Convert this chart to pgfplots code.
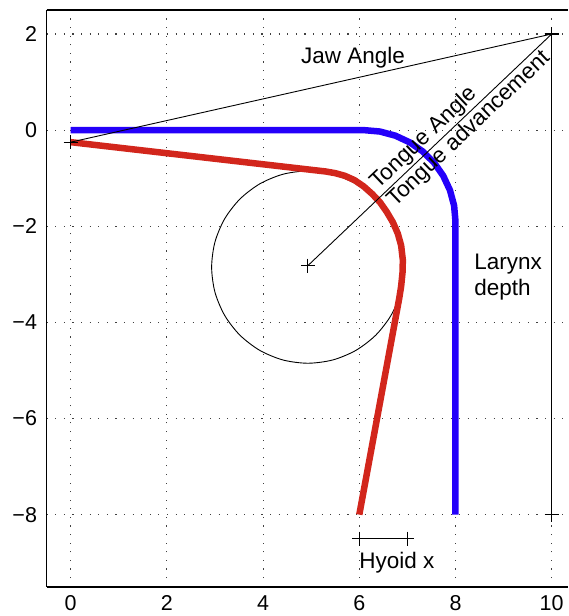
\documentclass[border=0pt]{standalone}
\usepackage{pgfplots}
\pgfplotsset{compat=1.18}
\usepackage{fontspec}
\setmainfont{Liberation Sans}
\definecolor{cblue}{RGB}{36,0,250}
\definecolor{cred}{RGB}{210,38,28}
\newcommand{\lf}{\fontsize{22.5}{26}\selectfont}
\newcommand{\tf}{\fontsize{21.5}{25}\selectfont}
\begin{document}
\begin{tikzpicture}
\begin{axis}[
  scale only axis, width=521.8pt, height=577.2pt,
  xmin=-0.5, xmax=10.34, ymin=-9.5, ymax=2.5,
  axis x line=box, axis y line=left,
  axis line style={-, line width=1.6pt},
  xtick={0,2,4,6,8,10},
  ytick={-8,-6,-4,-2,0,2},
  yticklabels={−8,−6,−4,−2,0,2},
  major tick length=0pt,
  grid=major,
  major grid style={black!75, line width=1.1pt, dash pattern=on 1.1pt off 7.5pt},
  /pgf/number format/assume math mode=true,
  tick label style={font=\tf, inner sep=0pt},
  xticklabel shift=9pt, yticklabel shift=9.5pt,
  clip=false,
]
\coordinate (BL) at (rel axis cs:0,0);
\coordinate (TR) at (rel axis cs:1,1);
% thin circle
\addplot[black, line width=0.9pt, smooth cycle] coordinates {
(6.93,-2.85) (6.862,-2.332) (6.662,-1.85) (6.344,-1.436) (5.93,-1.118) (5.448,-0.918)
(4.93,-0.85) (4.412,-0.918) (3.93,-1.118) (3.516,-1.436) (3.198,-1.85) (2.998,-2.332)
(2.93,-2.85) (2.998,-3.368) (3.198,-3.85) (3.516,-4.264) (3.93,-4.582) (4.412,-4.782)
(4.93,-4.85) (5.448,-4.782) (5.93,-4.582) (6.344,-4.264) (6.662,-3.85) (6.862,-3.368)};
% blue curve
\addplot[cblue, line width=6.5pt, line join=round] coordinates {
(0,0) (6.1,0) (6.43,-0.029) (6.75,-0.115) (7.05,-0.255) (7.321,-0.445)
(7.556,-0.679) (7.745,-0.95) (7.885,-1.25) (7.971,-1.57) (8,-1.9) (8,-8)};
% red curve
\addplot[cred, line width=6.5pt, line join=round] coordinates {
(0,-0.25) (5.3,-0.86) (5.5,-0.895) (5.7,-0.95) (5.9,-1.04) (6.09,-1.17) (6.27,-1.33)
(6.43,-1.5) (6.57,-1.7) (6.7,-1.92) (6.8,-2.15) (6.87,-2.4) (6.905,-2.7) (6.9,-2.95)
(6.87,-3.25) (6.83,-3.5) (6,-8)};
% jaw line
\addplot[black, line width=0.9pt, mark=+, mark size=7pt, mark options={line width=1.1pt}]
  coordinates {(0,-0.25) (10,2)};
% tongue line
\addplot[black, line width=0.9pt, mark=+, mark size=7pt, mark options={line width=1.1pt}]
  coordinates {(4.93,-2.82) (10,2)};
% larynx line
\addplot[black, line width=1.1pt, mark=+, mark size=7pt, mark options={line width=1.1pt}]
  coordinates {(10,2) (10,-8)};
% hyoid
\addplot[black, line width=1.1pt, mark=+, mark size=7pt, mark options={line width=1.1pt}]
  coordinates {(6,-8.5) (7,-8.5)};
\node[font=\lf] at (axis cs:5.87,1.5) {Jaw Angle};
\node[font=\lf, rotate=43.5, anchor=south, inner sep=1.5pt] at (axis cs:7.52,-0.356) {Tongue Angle};
\node[font=\lf, rotate=43.5, anchor=north, inner sep=1.5pt] at (axis cs:8.11,0.2) {Tongue advancement};
\node[font=\lf, anchor=west, align=left, inner sep=0pt] at (axis cs:8.39,-3.05) {Larynx\\depth};
\node[font=\lf, anchor=west, inner sep=0pt] at (axis cs:6.0,-9.0) {Hyoid x};
\end{axis}
\pgfresetboundingbox
\path ([shift={(-46.7pt,-29.3pt)}]BL) rectangle ([shift={(0pt,10pt)}]TR);
\end{tikzpicture}
\end{document}
